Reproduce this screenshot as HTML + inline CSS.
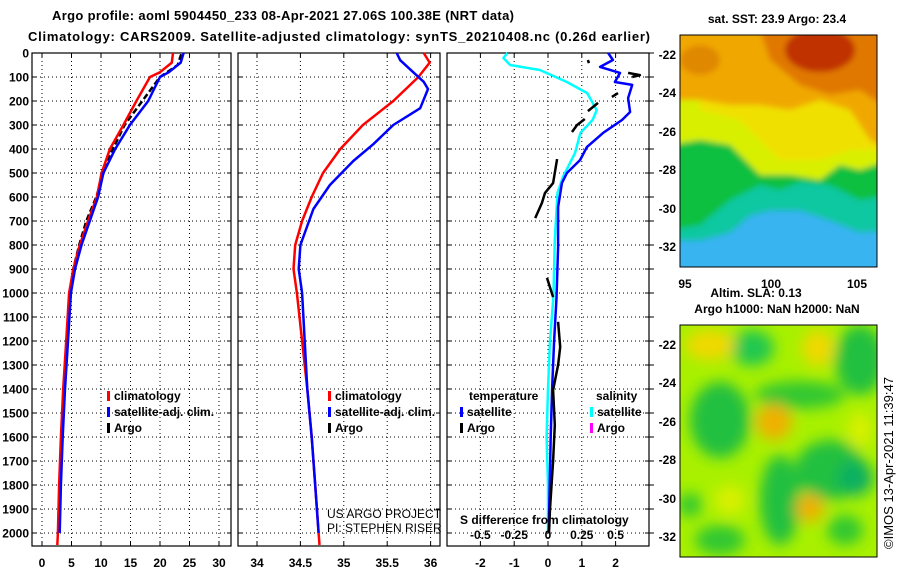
<!DOCTYPE html>
<html><head><meta charset="utf-8"><style>
html,body{margin:0;padding:0;background:#fff;}
svg{display:block;font-family:"Liberation Sans",Arial,sans-serif;}
.t{font-weight:bold;font-size:12px;fill:#000;}
.h{font-weight:bold;font-size:13px;fill:#000;}
</style></head><body>
<svg id="fig" width="900" height="580" viewBox="0 0 900 580" xmlns="http://www.w3.org/2000/svg">
<defs>
<filter id="bl" x="-20%" y="-20%" width="140%" height="140%"><feGaussianBlur stdDeviation="3"/></filter>
<filter id="bl2" x="-50%" y="-50%" width="200%" height="200%"><feGaussianBlur stdDeviation="7"/></filter>
<clipPath id="c1"><rect x="680" y="35" width="197" height="232"/></clipPath>
<clipPath id="c2"><rect x="680" y="325" width="197" height="232"/></clipPath>
</defs>
<text class="h" x="283" y="20" text-anchor="middle" textLength="462">Argo profile: aoml 5904450_233 08-Apr-2021 27.06S 100.38E (NRT data)</text>
<text class="h" x="339" y="41" text-anchor="middle" textLength="622">Climatology: CARS2009. Satellite-adjusted climatology: synTS_20210408.nc (0.26d earlier)</text>

<!-- SST map -->
<g>
<text class="t" x="777" y="23" text-anchor="middle">sat. SST: 23.9 Argo: 23.4</text>
<g clip-path="url(#c1)">
<rect x="680" y="35" width="197" height="232" fill="#38b4f0"/>
<g filter="url(#bl)">
<polygon fill="#10c8a0" points="670,30 890,30 890,230 860,232 830,220 800,210 770,210 750,215 730,232 700,240 670,240"/>
<polygon fill="#10c040" points="670,30 890,30 890,195 860,200 830,185 800,182 780,190 760,185 730,200 700,225 670,230"/>
<polygon fill="#d8f000" points="670,30 890,30 890,160 860,170 840,165 820,180 790,175 760,175 730,145 700,140 670,145"/>
<polygon fill="#f0e000" points="700,30 890,30 890,150 850,150 820,160 780,160 760,140 740,120 720,115 700,110"/>
<polygon fill="#f0a800" points="670,30 890,30 890,150 870,140 850,110 820,100 790,110 760,105 730,105 700,100 670,100"/>
<polygon fill="#e07800" points="760,30 890,30 890,110 860,90 830,95 800,85 770,60"/>
<ellipse cx="820" cy="50" rx="35" ry="22" fill="#c03000"/>
<ellipse cx="700" cy="60" rx="20" ry="15" fill="#e08800"/>
</g>
</g>
<rect x="680" y="35" width="197" height="232" fill="none" stroke="#000" stroke-width="1"/>
<g class="t" text-anchor="end">
<text x="676" y="59">-22</text><text x="676" y="97">-24</text><text x="676" y="136">-26</text><text x="676" y="174">-28</text><text x="676" y="213">-30</text><text x="676" y="251">-32</text>
</g>
<g class="t" text-anchor="middle">
<text x="685" y="288">95</text><text x="771" y="288">100</text><text x="857" y="288">105</text>
</g>
</g>

<!-- SLA map -->
<g>
<text class="t" x="756" y="297" text-anchor="middle">Altim. SLA: 0.13</text>
<text class="t" x="777" y="313" text-anchor="middle">Argo h1000: NaN h2000: NaN</text>
<g clip-path="url(#c2)">
<rect x="680" y="325" width="197" height="232" fill="#a8f000"/>
<g filter="url(#bl2)">
<ellipse cx="752" cy="348" rx="22" ry="18" fill="#20c850"/>
<ellipse cx="860" cy="360" rx="25" ry="35" fill="#20c040"/>
<ellipse cx="720" cy="420" rx="30" ry="38" fill="#20c040"/>
<ellipse cx="800" cy="395" rx="45" ry="14" fill="#30c830"/>
<ellipse cx="830" cy="470" rx="35" ry="30" fill="#20c040"/>
<ellipse cx="855" cy="478" rx="18" ry="18" fill="#10b060"/>
<ellipse cx="780" cy="500" rx="20" ry="45" fill="#20c040"/>
<ellipse cx="720" cy="540" rx="25" ry="15" fill="#30c830"/>
<ellipse cx="690" cy="505" rx="12" ry="12" fill="#30c830"/>
<ellipse cx="845" cy="530" rx="18" ry="15" fill="#30c830"/>
<ellipse cx="710" cy="345" rx="25" ry="15" fill="#f0d800"/>
<ellipse cx="818" cy="348" rx="16" ry="18" fill="#f0d800"/>
<ellipse cx="774" cy="422" rx="18" ry="18" fill="#f0b000"/>
<ellipse cx="810" cy="508" rx="14" ry="14" fill="#f0b000"/>
<ellipse cx="860" cy="430" rx="12" ry="18" fill="#d8f000"/>
<ellipse cx="730" cy="500" rx="15" ry="15" fill="#d8f000"/>
</g>
</g>
<rect x="680" y="325" width="197" height="232" fill="none" stroke="#000" stroke-width="1"/>
<g class="t" text-anchor="end">
<text x="676" y="349">-22</text><text x="676" y="387">-24</text><text x="676" y="426">-26</text><text x="676" y="464">-28</text><text x="676" y="503">-30</text><text x="676" y="541">-32</text>
</g>
</g>
<text x="893" y="463" font-size="13" text-anchor="middle" transform="rotate(-90 893 463)" fill="#000">©IMOS 13-Apr-2021 11:39:47</text>

<g id="plots"></g>
</svg>
<script>
// ---- data ----
const depthTicks = [0,100,200,300,400,500,600,700,800,900,1000,1100,1200,1300,1400,1500,1600,1700,1800,1900,2000];
const tempTicks = [0,5,10,15,20,25,30];
const salTicks = [34,34.5,35,35.5,36];
const salTickLabels = ['34','34.5','35','35.5','36'];
const dTTicks = [-2,-1,0,1,2];
const dSTicks = [-0.5,-0.25,0,0.25,0.5];
const dSTickLabels = ['-0.5','-0.25','0','0.25','0.5'];

const climDepth = [0,40,80,100,200,300,400,500,600,700,800,900,1000,1200,1400,1600,1800,2000,2050];
const climTemp  = [22.2,22.0,20.0,18.3,16.0,13.8,11.5,10.1,9.3,7.8,6.4,5.3,4.6,4.1,3.6,3.2,2.9,2.7,2.6];
const satDepth  = [0,40,80,100,200,300,400,500,600,700,800,900,1000,1200,1400,1600,1800,2000];
const satTemp   = [24.0,23.5,21.5,20.0,18.0,14.9,12.4,10.4,9.5,8.1,6.7,5.6,4.9,4.4,3.9,3.5,3.2,3.0];
const argoDepth = [5,50,100,200,300,450,600,700,800,900,1000,1200,1400,1600,1800,2000];
const argoTemp  = [23.6,23.0,20.0,17.0,14.0,11.0,9.2,7.5,6.3,5.3,4.7,4.3,3.8,3.4,3.1,2.9];

const climSalDepth = [0,40,100,200,300,400,500,600,700,800,900,1000,1200,1400,1600,1800,2000,2050];
const climSal      = [35.92,35.99,35.86,35.57,35.22,34.96,34.76,34.63,34.52,34.44,34.42,34.46,34.52,34.58,34.63,34.67,34.71,34.72];
const satSalDepth  = [0,30,80,120,150,230,300,380,450,550,650,800,900,1000,1200,1400,1600,1800,2000];
const satSal       = [35.61,35.65,35.8,35.92,35.97,35.88,35.57,35.34,35.11,34.84,34.65,34.5,34.48,34.52,34.55,34.58,34.63,34.67,34.71];

const dTDepth = [0,29,58,83,121,133,188,246,279,333,392,446,500,542,642,808,1021,1200,1400,1600,1800,2000];
const dTSat   = [1.78,1.92,1.54,2.13,1.98,2.49,2.37,2.43,2.19,1.63,1.15,0.95,0.56,0.41,0.30,0.30,0.25,0.18,0.12,0.08,0.05,0.02];
const dSDepth = [0,21,50,71,121,167,238,279,333,417,517,583,779,1017,1200,1400,1600,1800,2000];
const dSSat   = [-0.30,-0.33,-0.28,-0.06,0.14,0.29,0.36,0.33,0.24,0.20,0.11,0.07,0.05,0.04,0.015,0.0,-0.01,0.0,0.0];
const dTArgoDepth = [29,42,null,83,92,100,null,167,183,null,208,242,null,275,300,329,null,442,542,583,625,688,null,937,1017,null,1120,1225,1300,1404,1550,1700,1900,2000];
const dTArgo      = [1.18,1.21,null,2.37,2.72,2.49,null,2.07,1.89,null,1.48,1.18,null,1.09,0.86,0.71,null,0.27,0.15,-0.09,-0.18,-0.38,null,-0.03,0.15,null,0.30,0.36,0.30,0.15,0.20,0.15,0.06,0.03];

// ---- layout ----
const NS='http://www.w3.org/2000/svg';
const root=document.getElementById('plots');
const Y0=53, PXM=0.24, YB=546;
const yD=d=>Y0+d*PXM;
const xT=v=>42+v*5.9;
const xS=v=>257+(v-34)*86.8;
const xDT=v=>548+v*33.8;
const xDS=v=>548+v*135.2;
function mk(tag,attrs,parent){const e=document.createElementNS(NS,tag);for(const k in attrs)e.setAttribute(k,attrs[k]);(parent||root).appendChild(e);return e;}

function panel(name,x0,x1,xs,ticks,labels,showDepth){
  const g=mk('g',{});
  
  
  depthTicks.forEach(d=>{
    if(d>0) mk('line',{x1:x0,x2:x1,y1:yD(d),y2:yD(d),stroke:'#000','stroke-width':1,'stroke-dasharray':'1,3'},g);
    mk('line',{x1:x0,x2:x0+4,y1:yD(d),y2:yD(d),stroke:'#000'},g);
    mk('line',{x1:x1-4,x2:x1,y1:yD(d),y2:yD(d),stroke:'#000'},g);
  });
  ticks.forEach((t,i)=>{
    const x=xs(t);
    mk('line',{x1:x,x2:x,y1:Y0,y2:YB,stroke:'#000','stroke-dasharray':'1,3'},g);
    mk('line',{x1:x,x2:x,y1:Y0,y2:Y0+4,stroke:'#000'},g);
    mk('line',{x1:x,x2:x,y1:YB-4,y2:YB,stroke:'#000'},g);
    const tx=mk('text',{x:x,y:567,'text-anchor':'middle',class:'t'},g);
    tx.textContent=labels[i];
    
    
  });
  mk('rect',{x:x0,y:Y0,width:x1-x0,height:YB-Y0,fill:'none',stroke:'#000','stroke-width':1.2},g);
  if(showDepth){depthTicks.forEach(d=>{
    const tx=mk('text',{x:29,y:yD(d)+4.5,'text-anchor':'end',class:'t'},g);
    tx.textContent=String(d);
    
    
  });}
  return g;
}
function line(name,depths,vals,xs,color,w,dash){
  let segs=[],cur=[];
  depths.forEach((d,i)=>{
    if(d===null||vals[i]===null){if(cur.length)segs.push(cur);cur=[];}
    else cur.push(xs(vals[i]).toFixed(1)+','+yD(d).toFixed(1));
  });
  if(cur.length)segs.push(cur);
  segs.forEach(s=>{
    const p=mk('polyline',{points:s.join(' '),fill:'none',stroke:color,'stroke-width':w,'stroke-linejoin':'round'});
    if(dash)p.setAttribute('stroke-dasharray',dash);
    
    
  });
}
function legend(x,y,color,label,name){
  mk('rect',{x:x,y:y-9,width:3,height:10,fill:color});
  const t=mk('text',{x:x+7,y:y,class:'t'});
  t.textContent=label;
  
  
}

panel('temperature-panel',32,231,xT,tempTicks,tempTicks.map(String),true);
panel('salinity-panel',238,440,xS,salTicks,salTickLabels,false);
panel('difference-panel',447,649,xDT,dTTicks,dTTicks.map(String),false);

// extra right ticks on difference panel
depthTicks.forEach(d=>{mk('line',{x1:649,x2:654,y1:yD(d),y2:yD(d),stroke:'#000'});});

line('argo-temperature',argoDepth,argoTemp,xT,'#000',2.5,'6,3');
line('climatology-temperature',climDepth,climTemp,xT,'#ff0000',2.5);
line('satellite-temperature',satDepth,satTemp,xT,'#0000ff',2.5);

line('climatology-salinity',climSalDepth,climSal,xS,'#ff0000',2.5);
line('satellite-salinity',satSalDepth,satSal,xS,'#0000ff',2.5);

line('salinity-difference-satellite',dSDepth,dSSat,xDS,'#00ffff',2.5);
line('temperature-difference-satellite',dTDepth,dTSat,xDT,'#0000ff',2.5);
line('temperature-difference-argo',dTArgoDepth,dTArgo,xDT,'#000',2.5);

legend(107,400,'#ff0000','climatology','legend-climatology');
legend(107,416,'#0000ff','satellite-adj. clim.','legend-satellite-adj');
legend(107,432,'#000','Argo','legend-argo');
legend(328,400,'#ff0000','climatology','legend-climatology-sal');
legend(328,416,'#0000ff','satellite-adj. clim.','legend-satellite-adj-sal');
legend(328,432,'#000','Argo','legend-argo-sal');
const lt=mk('text',{x:469,y:400,class:'t'});lt.textContent='temperature';


const ls=mk('text',{x:596,y:400,class:'t'});ls.textContent='salinity';


legend(460,416,'#0000ff','satellite','legend-temp-satellite');
legend(460,432,'#000','Argo','legend-temp-argo');
legend(590,416,'#00ffff','satellite','legend-sal-satellite');
legend(590,432,'#ff00ff','Argo','legend-sal-argo');

const st=mk('text',{x:460,y:524,class:'t'});st.textContent='S difference from climatology';


dSTicks.forEach((v,i)=>{const t=mk('text',{x:xDS(v),y:539,'text-anchor':'middle',class:'t'});t.textContent=dSTickLabels[i];

});

const c1=mk('text',{x:327,y:518,'font-size':'12',fill:'#000'});c1.textContent='US ARGO PROJECT';


const c2=mk('text',{x:327,y:532,'font-size':'12',fill:'#000'});c2.textContent='PI: STEPHEN RISER';


</script>
</body></html>
